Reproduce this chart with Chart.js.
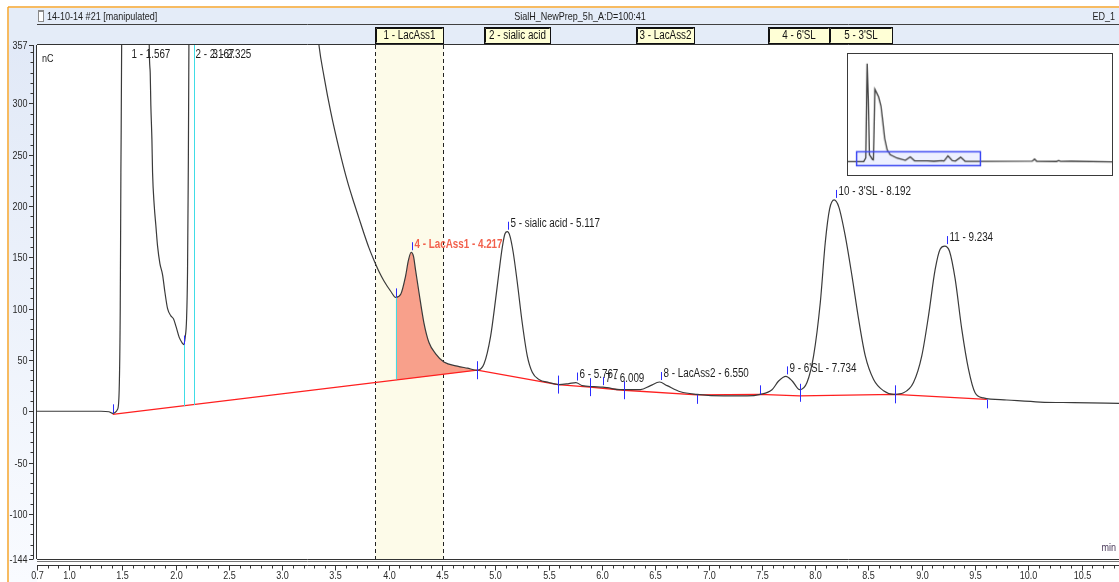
<!DOCTYPE html>
<html lang="en">
<head>
  <meta charset="UTF-8">
  <title>SialH_NewPrep_5h_A</title>
  <style>
    html, body { margin: 0; padding: 0; background: #fff; }
    #wrap { position: relative; width: 1119px; height: 582px; overflow: hidden; }
    #main { position: absolute; left: 0; top: 0; }
    #inset { position: absolute; left: 847px; top: 53px; border: 1px solid #3a3a3a; background: #fff; }
  </style>
</head>
<body>
  <div id="wrap">
    <canvas id="main" width="1119" height="582"></canvas>
    <canvas id="inset" width="266" height="123"></canvas>
  </div>
  <script src="https://cdn.jsdelivr.net/npm/chart.js"></script>
  <script>
// chromatogram trace (min, nC); values above 357 are off scale
const traceTime = [0.70, 1.00, 1.30, 1.375, 1.41, 1.456, 1.471, 1.481, 1.487, 1.494, 1.567, 1.66,
  1.753, 1.762, 1.768, 1.778, 1.784, 1.800, 1.815, 1.831, 1.853, 1.878, 1.900, 1.925, 1.956, 1.981,
  2.003, 2.034, 2.066, 2.075, 2.090, 2.103, 2.112, 2.118, 2.125, 2.17, 2.33, 2.5, 2.7, 2.9, 3.05, 3.2,
  3.346, 3.393, 3.455, 3.533, 3.612, 3.674, 3.721, 3.768, 3.815, 3.862, 3.909, 3.955, 4.018, 4.065,
  4.112, 4.158, 4.184, 4.210, 4.232, 4.252, 4.283, 4.330, 4.377, 4.440, 4.517, 4.643, 4.737, 4.830,
  4.893, 4.955, 5.002, 5.033, 5.065, 5.090, 5.112, 5.136, 5.167, 5.205, 5.252, 5.299, 5.346, 5.408,
  5.502, 5.596, 5.690, 5.755, 5.814, 5.923, 6.009, 6.048, 6.173, 6.236, 6.361, 6.455, 6.540, 6.611,
  6.736, 6.892, 7.142, 7.361, 7.485, 7.595, 7.657, 7.725, 7.785, 7.854, 7.923, 7.985, 8.048, 8.095,
  8.135, 8.178, 8.222, 8.282, 8.345, 8.407, 8.470, 8.548, 8.641, 8.735, 8.829, 8.922, 9.000, 9.063,
  9.125, 9.172, 9.215, 9.260, 9.313, 9.375, 9.438, 9.500, 9.578, 9.797, 10.110, 10.422, 10.85];
const traceSignal = [0, 0, 0, -0.5, -2, 2, 21, 102, 233, 356, 3540, 2240,
  356, 330, 298, 265, 233, 200, 181, 161, 144, 133, 116, 100, 93, 90,
  83, 72, 66, 65, 72, 90, 135, 217, 356, 2620, 2480, 2340, 2000, 1400, 850, 520,
  356, 326, 292, 256, 224, 203, 188, 173, 159, 147, 136, 127, 117, 111,
  114, 132, 147, 155, 151, 137, 116, 86, 67, 56, 48, 44, 42, 40,
  46, 73, 109, 135, 160, 173, 175, 171, 155, 126, 86, 54, 38, 31,
  28, 26, 27, 28, 25, 24, 23.5, 23, 21, 21, 21, 25, 28.5, 25,
  19, 16.5, 15, 15, 16.5, 21, 29.5, 34, 29.5, 21, 28, 54, 106, 165,
  197, 206, 199, 171, 132, 90, 54, 31, 20, 16.5, 18, 28, 54, 93,
  138, 158, 161, 156, 129, 80, 41, 18, 13, 11, 9, 8.4, 7.7];

// integration baseline (red)
const baselineTime = [1.41, 4.83, 5.586, 5.886, 6.205, 6.89, 7.48, 7.854, 8.75, 9.61];
const baselineSignal = [-3, 40, 26, 23.5, 20.5, 16, 16.5, 15, 16.5, 11.6];

// peak boundary markers: kind = start (tick up), end (tick down), both
const boundaryTime = [1.41, 2.075, 4.065, 4.83, 5.586, 5.886, 6.205, 6.89, 7.48, 7.854, 8.75, 9.61];
const boundarySignal = [-2, 65, 111, 40, 26, 23.5, 20.5, 16, 16.5, 18, 16.5, 11.6];
const boundaryKind = ['start', 'start', 'start', 'both', 'both', 'both', 'both', 'end', 'start', 'both', 'both', 'end'];

// perpendicular drops (cyan)
const dropTime = [2.075, 2.17, 4.065, 7.854];
const dropTop = [65, 357, 111, 21];
const dropBottom = [5, 6, 31, 15];

// peaks
const peakNumber = ['1', '2', '3', '4', '5', '6', '7', '8', '9', '10', '11'];
const peakName = ['', '', '', 'LacAss1', 'sialic acid', '', '', 'LacAss2', "6'SL", "3'SL", ''];
const peakTime = [1.567, 2.167, 2.325, 4.217, 5.117, 5.767, 6.009, 6.550, 7.734, 8.192, 9.234];
const peakHeight = [3540, 2620, 2480, 155, 175, 28, 23.5, 28.5, 34, 206, 161];
const selectedPeak = 3;

// peak identification windows
const windowName = ['1 - LacAss1', '2 - sialic acid', '3 - LacAss2', "4 - 6'SL", "5 - 3'SL"];
const windowStart = [3.868, 4.889, 6.323, 7.556, 8.132];
const windowEnd = [4.505, 5.517, 6.867, 8.127, 8.718];
const selectedWindow = 0;

// axis ticks
const xTickValues = [0.7, 1.0, 1.5, 2.0, 2.5, 3.0, 3.5, 4.0, 4.5, 5.0, 5.5, 6.0, 6.5, 7.0, 7.5, 8.0, 8.5, 9.0, 9.5, 10.0, 10.5];
const yTickValues = [357, 300, 250, 200, 150, 100, 50, 0, -50, -100, -144];

// overview trace for the inset (whole run)
const overviewTime = [0, 1.28, 1.45, 1.567, 1.66, 1.75, 2.0, 2.075, 2.12, 2.2, 2.35, 2.5, 2.7, 2.85, 3.0, 3.2,
  3.45, 4.0, 4.7, 5.1, 5.45, 6.5, 7.04, 7.72, 7.86, 8.19, 8.55, 8.8, 9.23, 9.6, 11.4, 15.1, 15.28, 15.45,
  17.1, 17.25, 17.4, 18.27, 21.63];
const overviewSignal = [0, 0, 140, 3540, 2240, 255, 80, 65, 900, 2620, 2480, 2340, 2000, 1440, 840, 430,
  255, 130, 45, 175, 30, 25, 15, 35, 20, 206, 35, 20, 161, 15, 8, 20, 95, 15,
  5, 45, 10, 15, -5];

const xMin = 0.7, xMax = 10.85, yMin = -144, yMax = 357;
const sans = '"Liberation Sans", Arial, sans-serif';
const squeeze = 0.82; // the original uses a narrow face

const pts = (xs, ys) => xs.map((t, i) => ({ x: t, y: ys[i] }));
const peak4 = pts(traceTime, traceSignal).filter(p => p.x >= boundaryTime[2] && p.x <= boundaryTime[3]);

function seg(ctx, x1, y1, x2, y2) {
  ctx.beginPath(); ctx.moveTo(x1, y1); ctx.lineTo(x2, y2); ctx.stroke();
}

function text(ctx, str, x, y, size, align, color, bold) {
  ctx.save();
  ctx.font = (bold ? 'bold ' : '') + size + 'px ' + sans;
  ctx.fillStyle = color;
  ctx.textBaseline = 'middle';
  ctx.textAlign = 'left';
  const w = ctx.measureText(str).width * squeeze;
  const x0 = align === 'center' ? x - w / 2 : align === 'right' ? x - w : x;
  ctx.translate(x0, y);
  ctx.scale(squeeze, 1);
  ctx.fillText(str, 0, 0);
  ctx.restore();
}

const chromDecor = {
  id: 'chromDecor',
  beforeDraw(chart) {
    const { ctx, width, height, chartArea: a } = chart;
    const x = chart.scales.x;
    ctx.save();
    ctx.fillStyle = '#fff';
    ctx.fillRect(0, 0, width, height);
    const g = ctx.createLinearGradient(0, 44, 0, height);
    g.addColorStop(0, '#e1e9f7');
    g.addColorStop(1, '#f9fbff');
    ctx.fillStyle = g;
    ctx.fillRect(9, a.top, a.left - 9, height - a.top);
    ctx.fillStyle = '#e4ecf8';
    ctx.fillRect(9, 8, width - 9, a.top - 8);

    ctx.strokeStyle = '#f4a42c';
    ctx.lineWidth = 1.5;
    seg(ctx, 8, 7, width, 7);
    seg(ctx, 8, 7, 8, height);

    ctx.strokeStyle = '#404040';
    ctx.lineWidth = 1;
    seg(ctx, a.left, 24.5, width, 24.5);

    // title row
    ctx.fillStyle = '#8a8a8a';
    ctx.fillRect(38, 10, 6, 12);
    ctx.fillStyle = '#fff';
    ctx.fillRect(39, 12, 4, 9);
    text(ctx, '14-10-14 #21 [manipulated]', 47, 16.5, 11, 'left', '#1e1e1e');
    text(ctx, 'SialH_NewPrep_5h_A:D=100:41', 580, 16.5, 11, 'center', '#1e1e1e');
    text(ctx, 'ED_1', 1115, 16.5, 11, 'right', '#1e1e1e');

    // window boxes
    windowName.forEach((name, i) => {
      const x0 = Math.round(x.getPixelForValue(windowStart[i])) + 0.5;
      const x1 = Math.round(x.getPixelForValue(windowEnd[i])) + 0.5;
      ctx.fillStyle = '#ffffd6';
      ctx.fillRect(x0, 27.5, x1 - x0, 16);
      ctx.strokeStyle = '#111';
      ctx.lineWidth = 1;
      ctx.strokeRect(x0, 27.5, x1 - x0, 16);
      seg(ctx, x0 + 1, 28.5, x1 - 1, 28.5);
      seg(ctx, x0 + 1, 28.5, x0 + 1, 42.5);
      text(ctx, name, (x0 + x1) / 2, 36, 12, 'center', '#111');
    });
    ctx.restore();
  },
  beforeDatasetsDraw(chart) {
    const { ctx, chartArea: a } = chart;
    const x = chart.scales.x;
    const x0 = Math.round(x.getPixelForValue(windowStart[selectedWindow])) + 0.5;
    const x1 = Math.round(x.getPixelForValue(windowEnd[selectedWindow])) + 0.5;
    ctx.save();
    ctx.fillStyle = '#fdfbe9';
    ctx.fillRect(x0, a.top, x1 - x0, a.bottom - a.top);
    ctx.strokeStyle = '#222';
    ctx.lineWidth = 1;
    ctx.setLineDash([4, 3]);
    seg(ctx, x0, a.top, x0, a.bottom);
    seg(ctx, x1, a.top, x1, a.bottom);
    ctx.restore();
  },
  afterDatasetsDraw(chart) {
    const { ctx, chartArea: a } = chart;
    const x = chart.scales.x, y = chart.scales.y;
    ctx.save();
    ctx.lineWidth = 1;
    ctx.strokeStyle = '#40dde6';
    dropTime.forEach((t, i) => {
      const X = Math.round(x.getPixelForValue(t)) + 0.5;
      seg(ctx, X, y.getPixelForValue(dropTop[i]), X, y.getPixelForValue(dropBottom[i]));
    });
    ctx.strokeStyle = '#2b2bff';
    boundaryTime.forEach((t, i) => {
      const X = Math.round(x.getPixelForValue(t)) + 0.5;
      const Y = y.getPixelForValue(boundarySignal[i]);
      const up = boundaryKind[i] === 'end' ? 0 : 9;
      const down = boundaryKind[i] === 'start' ? 0 : 9;
      seg(ctx, X, Y - up, X, Y + down);
    });
    peakTime.forEach((t, i) => {
      const X = Math.round(x.getPixelForValue(t)) + 0.5;
      const onScale = peakHeight[i] <= yMax;
      const Y = onScale ? y.getPixelForValue(peakHeight[i]) : a.top;
      if (onScale) {
        ctx.strokeStyle = '#2b2bff';
        seg(ctx, X, Y - 2, X, Y - 10);
      }
      const label = peakNumber[i] + (peakName[i] ? ' - ' + peakName[i] : '') + ' - ' + t.toFixed(3);
      const sel = i === selectedPeak;
      text(ctx, label, X + 2, onScale ? Y - 8 : a.top + 10, 12, 'left', sel ? '#f2604c' : '#1e1e1e', sel);
    });
    ctx.restore();
  },
  afterDraw(chart) {
    const { ctx, width, chartArea: a } = chart;
    const x = chart.scales.x, y = chart.scales.y;
    ctx.save();
    ctx.strokeStyle = '#333';
    ctx.lineWidth = 1;
    seg(ctx, a.left, a.top - 0.5, width, a.top - 0.5);
    seg(ctx, a.left - 0.5, a.top, a.left - 0.5, a.bottom);
    seg(ctx, a.left, a.bottom + 0.5, width, a.bottom + 0.5);
    ctx.strokeStyle = '#777';
    seg(ctx, a.left, a.bottom + 2.5, width, a.bottom + 2.5);

    // y axis ruler and labels from the scale's ticks
    ctx.strokeStyle = '#333';
    const yr = a.left - 3.5;
    seg(ctx, yr, y.getPixelForValue(yMax), yr, y.getPixelForValue(yMin));
    for (let v = -140; v <= 350; v += 10) {
      const Y = Math.round(y.getPixelForValue(v)) + 0.5;
      seg(ctx, yr - 3, Y, yr, Y);
    }
    y.ticks.forEach(tk => {
      const Y = Math.round(y.getPixelForValue(tk.value)) + 0.5;
      seg(ctx, yr - 4.5, Y, yr, Y);
      text(ctx, String(tk.value), yr - 6, Y, 11, 'right', '#2a2a2a');
    });

    // x axis ruler and labels
    const xr = a.bottom + 6.5;
    seg(ctx, a.left, xr, width, xr);
    for (let k = 7; k <= 108; k++) {
      const X = Math.round(x.getPixelForValue(k / 10)) + 0.5;
      seg(ctx, X, xr, X, xr + 3);
    }
    x.ticks.forEach(tk => {
      const X = Math.round(x.getPixelForValue(tk.value)) + 0.5;
      seg(ctx, X, xr, X, xr + 5);
      text(ctx, tk.value.toFixed(1), X, xr + 10, 11, 'center', '#2a2a2a');
    });

    text(ctx, 'nC', a.left + 5, a.top + 14, 11, 'left', '#222');
    text(ctx, 'min', width - 3, a.bottom - 11, 11, 'right', '#4a3a5a');
    ctx.restore();
  }
};

new Chart(document.getElementById('main'), {
  type: 'line',
  data: {
    datasets: [
      {
        label: 'signal',
        data: pts(traceTime, traceSignal),
        borderColor: '#3a3a3a',
        borderWidth: 1.2,
        pointRadius: 0,
        cubicInterpolationMode: 'monotone',
        fill: false
      },
      {
        label: 'baseline',
        data: pts(baselineTime, baselineSignal),
        borderColor: '#ff1f1f',
        borderWidth: 1.3,
        pointRadius: 0,
        tension: 0,
        fill: false
      },
      {
        label: 'peak 4 area',
        data: peak4,
        borderWidth: 0,
        borderColor: 'rgba(0,0,0,0)',
        pointRadius: 0,
        cubicInterpolationMode: 'monotone',
        backgroundColor: '#f8a08b',
        fill: 1
      }
    ]
  },
  options: {
    responsive: false,
    animation: false,
    events: [],
    layout: { padding: { left: 8, top: 45, right: 0, bottom: 0 }, autoPadding: false },
    plugins: { legend: { display: false }, tooltip: { enabled: false } },
    scales: {
      x: {
        type: 'linear',
        min: xMin,
        max: xMax,
        afterBuildTicks: s => { s.ticks = xTickValues.map(v => ({ value: v })); },
        afterFit: s => { s.height = 23; },
        grid: { display: false, drawTicks: false },
        border: { display: false },
        ticks: { display: false }
      },
      y: {
        type: 'linear',
        min: yMin,
        max: yMax,
        afterBuildTicks: s => { s.ticks = yTickValues.map(v => ({ value: v })); },
        afterFit: s => { s.width = 29; },
        grid: { display: false, drawTicks: false },
        border: { display: false },
        ticks: { display: false }
      }
    }
  },
  plugins: [chromDecor]
});

// inset overview with the zoom box
const zoomBox = {
  id: 'zoomBox',
  beforeDatasetsDraw(chart) {
    const x = chart.scales.x, y = chart.scales.y, ctx = chart.ctx;
    ctx.save();
    ctx.fillStyle = 'rgba(196,204,255,0.3)';
    ctx.fillRect(x.getPixelForValue(xMin), y.getPixelForValue(yMax),
      x.getPixelForValue(xMax) - x.getPixelForValue(xMin), y.getPixelForValue(yMin) - y.getPixelForValue(yMax));
    ctx.restore();
  },
  afterDatasetsDraw(chart) {
    const x = chart.scales.x, y = chart.scales.y, ctx = chart.ctx;
    ctx.save();
    ctx.strokeStyle = '#3a46f2';
    ctx.lineWidth = 1.5;
    ctx.strokeRect(x.getPixelForValue(xMin), y.getPixelForValue(yMax),
      x.getPixelForValue(xMax) - x.getPixelForValue(xMin), y.getPixelForValue(yMin) - y.getPixelForValue(yMax));
    ctx.restore();
  }
};

new Chart(document.getElementById('inset'), {
  type: 'line',
  data: {
    datasets: [{
      data: pts(overviewTime, overviewSignal),
      borderColor: '#3c3c3c',
      borderWidth: 1.3,
      pointRadius: 0,
      tension: 0,
      fill: false
    }]
  },
  options: {
    responsive: false,
    animation: false,
    events: [],
    layout: { padding: 0, autoPadding: false },
    plugins: { legend: { display: false }, tooltip: { enabled: false } },
    scales: {
      x: { type: 'linear', display: false, min: 0, max: 21.63 },
      y: { type: 'linear', display: false, min: -483, max: 3888 }
    }
  },
  plugins: [zoomBox]
});
  </script>
</body>
</html>
